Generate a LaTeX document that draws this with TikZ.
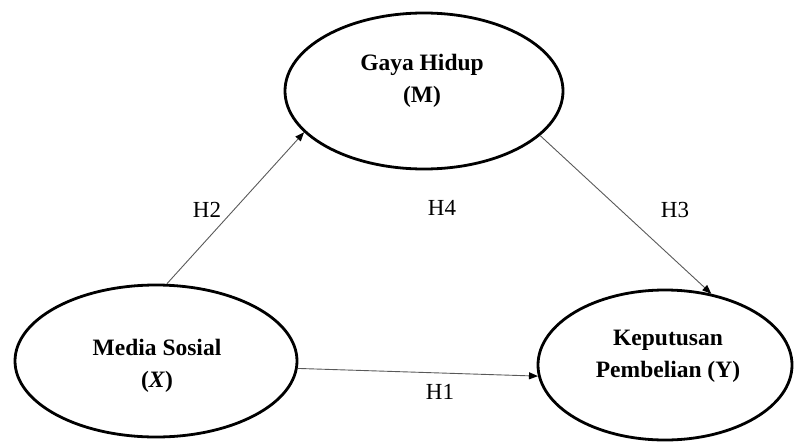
\documentclass[tikz,border=0pt]{standalone}
\usepackage{fontspec}
\setmainfont{Liberation Serif}
\usetikzlibrary{shapes.geometric,arrows.meta}
\begin{document}
\begin{tikzpicture}[x=1pt,y=-1pt,
  ell/.style={ellipse,draw=black,line width=2.8pt,inner sep=0pt},
  vartext/.style={align=center,font=\fontsize{23.5}{32}\selectfont\bfseries,inner sep=0pt},
  hyp/.style={font=\fontsize{23}{26}\selectfont,inner sep=0pt},
  link/.style={draw=black!65,line width=0.9pt,-{Triangle[length=9pt,width=7pt,fill=black,color=black]}}]
\useasboundingbox (0,0) rectangle (795,442);
\node[ell,minimum width=278pt,minimum height=156pt] (M) at (424,91) {};
\node[ell,minimum width=282pt,minimum height=152pt] (X) at (156,361) {};
\node[ell,minimum width=254pt,minimum height=150pt] (Y) at (665,365) {};
\node[vartext] (Mt) at (422,81) {Gaya Hidup\\(M)};
\node[vartext] (Xt) at (157,366) {Media Sosial\\(\textit{X})};
\node[vartext] (Yt) at (668,356) {Keputusan\\Pembelian (Y)};
\draw[link] (X.82) -- (M.199);
\draw[link] (M.339) -- (Y.57);
\draw[link] (X.-3) -- (Y.185);
\node[hyp] (h2) at (207,210) {H2};
\node[hyp] (h3) at (675,210) {H3};
\node[hyp] (h4) at (442,208) {H4};
\node[hyp] (h1) at (440,392) {H1};
\end{tikzpicture}
\end{document}
